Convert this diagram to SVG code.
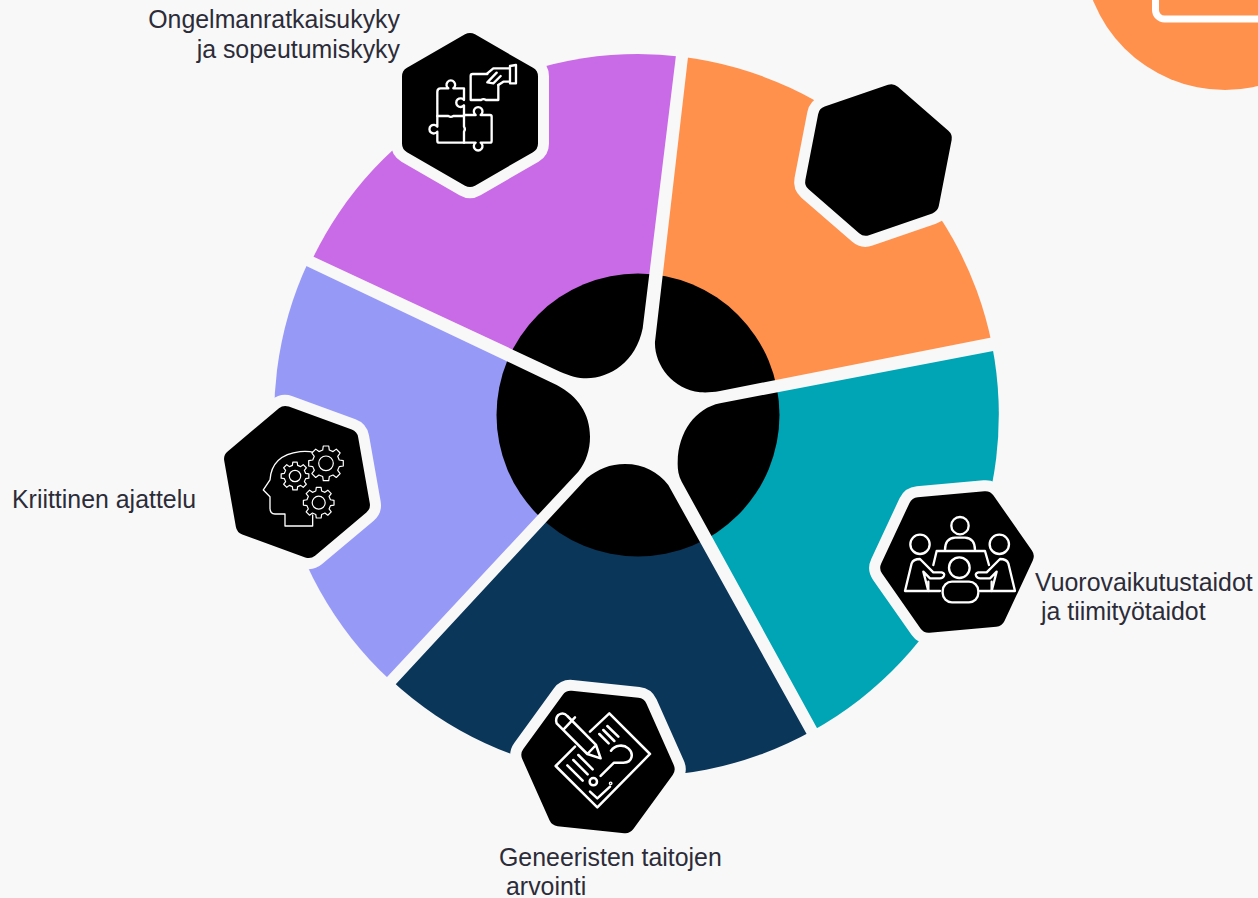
<svg xmlns="http://www.w3.org/2000/svg" width="1258" height="898" viewBox="0 0 1258 898">
<style>
.lbl{font-family:"Liberation Sans",Arial,sans-serif;font-size:24.9px;fill:#2c2c38}
.halo{fill:#f8f8f8;stroke:#f8f8f8;stroke-width:42;stroke-linejoin:round}
.hexb{fill:#000;stroke:#000;stroke-width:20;stroke-linejoin:round}
.ic{fill:none;stroke:#fff;stroke-width:7;stroke-linecap:round;stroke-linejoin:round}
.gear{fill:#000;stroke:#fff;stroke-width:1.2;stroke-linejoin:round;vector-effect:non-scaling-stroke}
.bg{fill:#f8f8f8}
</style>
<defs>
<polygon id="hex" points="0,-67 58,-33.5 58,33.5 0,67 -58,33.5 -58,-33.5"/>
<polygon id="g" class="gear" points="-18.9,-75.7 -15.6,-98.8 15.6,-98.8 18.9,-75.7 40.2,-66.9 58.8,-80.9 80.9,-58.8 66.9,-40.2 75.7,-18.9 98.8,-15.6 98.8,15.6 75.7,18.9 66.9,40.2 80.9,58.8 58.8,80.9 40.2,66.9 18.9,75.7 15.6,98.8 -15.6,98.8 -18.9,75.7 -40.2,66.9 -58.8,80.9 -80.9,58.8 -66.9,40.2 -75.7,18.9 -98.8,15.6 -98.8,-15.6 -75.7,-18.9 -66.9,-40.2 -80.9,-58.8 -58.8,-80.9 -40.2,-66.9"/>
</defs>
<rect width="1258" height="898" class="bg"/>
<g id="corner">
<circle cx="1225" cy="-52" r="142" fill="#ff914d"/>
<rect x="1155.500" y="-40" width="140" height="59" rx="9" fill="none" stroke="#fff" stroke-width="7"/>
</g>
<g id="segments">
<path id="seg-purple" fill="#c96ae6" d="M638 415 L310.600 262.800 A361 361 0 0 1 681.800 56.800 Z"/>
<path id="seg-orange" fill="#ff914d" d="M638 415 L681.800 56.800 A361 361 0 0 1 992 345 Z"/>
<path id="seg-teal" fill="#00a5b5" d="M638 415 L992 345 A361 361 0 0 1 812 731 Z"/>
<path id="seg-navy" fill="#0a3659" d="M638 415 L812 731 A361 361 0 0 1 391 680 Z"/>
<path id="seg-lav" fill="#9799f7" d="M638 415 L390 680 A361 361 0 0 1 308.500 261.500 Z"/>
<circle id="core" cx="638" cy="415" r="141.500" fill="#000"/>
<path id="gaps" class="bg" d="M681 14 L642.700 328.300 C636 362 610 378 586.700 378.300 C578 378.300 570 376 560 371.700 L270 236.400 L260 244 L556.700 385 C578 396 590 414 590 436.700 C590 450 586 462 578.300 471.700 L360 706 L370 712 L586.700 478.300 C598 469 610 464 625 464 C644 464 658 472 668.300 485 L830 776 L840 770 L681.700 481.700 C678 475 677.500 468 677.700 461.700 C678 432 696 408 720 403.300 L1040 342 L1040 328 L720 391 C712 392.500 706 392.600 700 392.300 C672 389 654 364 655 341.700 L693 14 Z"/>
</g>
<g id="node-problem">
<use href="#hex" class="halo" transform="translate(470 110)"/>
<use href="#hex" class="hexb" transform="translate(470 110)"/>
<g class="ic" transform="translate(400 30) scale(.3333)">
<path d="M112 258 V185 Q112 175 122 175 H145 A13 13 0 1 1 160 175 H192 V210 A13 13 0 1 0 192 226 V258"/>
<path d="M112 258 H145 A13 13 0 0 0 160 258 H192 V290 A13 13 0 0 1 192 305 V338 H118 Q112 338 112 332 V305 A13 13 0 1 1 112 290 Z"/>
<path d="M192 255 H227 A13 13 0 1 1 242 255 H270 Q275 255 275 260 V332 Q275 338 270 338 H242 A13 13 0 1 1 227 338 H192"/>
<path d="M262 132 H218 Q212 132 212 138 V210 H243 A13 13 0 0 1 258 210 H295 V165"/>
<path d="M348 105 V160 H330 V108 Z M330 115 H280 L262 130 M330 155 H310 L295 165 M262 157 L290 128 M262 157 L280 160 L302 138"/>
</g>
<text class="lbl" x="400" y="28" text-anchor="end">Ongelmanratkaisukyky</text>
<text class="lbl" x="400" y="58" text-anchor="end">ja sopeutumiskyky</text>
</g>
<g id="node-empty">
<use href="#hex" class="halo" transform="translate(878.500 160) rotate(11)"/>
<use href="#hex" class="hexb" transform="translate(878.500 160) rotate(11)"/>
</g>
<g id="node-critical">
<use href="#hex" class="halo" transform="translate(297 482) rotate(-10)"/>
<use href="#hex" class="hexb" transform="translate(297 482) rotate(-10)"/>
<g class="ic" style="stroke-width:4" transform="translate(220 400) scale(.3333)">
<path d="M195 378 V342 H165 Q150 342 150 325 V290 L130 270 L150 240 Q155 165 240 155 Q262 152 285 158 M195 378 H278 V345"/>
</g>
<use href="#g" transform="translate(326 463.300) scale(.175)"/>
<circle cx="326" cy="463.300" r="7.300" fill="none" stroke="#fff" stroke-width="1.200"/>
<use href="#g" transform="translate(295 476) scale(.14)"/>
<circle cx="295" cy="476" r="5.700" fill="none" stroke="#fff" stroke-width="1.200"/>
<use href="#g" transform="translate(318.700 502.700) scale(.155)"/>
<circle cx="318.700" cy="502.700" r="6.500" fill="none" stroke="#fff" stroke-width="1.200"/>
<text class="lbl" x="12" y="508">Kriittinen ajattelu</text>
</g>
<g id="node-teamwork">
<use href="#hex" class="halo" transform="translate(957 562) rotate(25)"/>
<use href="#hex" class="hexb" transform="translate(957 562) rotate(25)"/>
<g class="ic" transform="translate(870 485) scale(.3333)">
<circle cx="270" cy="122" r="26"/>
<path d="M225 195 Q225 160 255 158 H285 Q315 160 315 195"/>
<circle cx="150" cy="178" r="29"/>
<circle cx="388" cy="178" r="29"/>
<path d="M190 240 L200 198 H345 L357 240"/>
<circle cx="268" cy="248" r="31"/>
<rect x="218" y="290" width="107" height="62" rx="28"/>
<path d="M105 318 L125 235 Q130 222 150 222 L190 262 H215 Q225 265 222 272 Q218 280 210 280 H180 L160 260 L175 318 Z"/>
<path d="M435 318 L415 235 Q410 222 390 222 L350 262 H325 Q315 265 318 272 Q322 280 330 280 H360 L380 260 L365 318 Z"/>
<path d="M175 290 V318 H210 M365 290 V318 H330"/>
</g>
<text class="lbl" x="1035" y="591">Vuorovaikutustaidot</text>
<text class="lbl" x="1041" y="620">ja tiimityötaidot</text>
</g>
<g id="node-assessment">
<use href="#hex" class="halo" transform="translate(598 762) rotate(-24)"/>
<use href="#hex" class="hexb" transform="translate(598 762) rotate(-24)"/>
<g class="ic" style="stroke-width:7.500" transform="translate(510 680) scale(.3333)">
<path d="M240 155 L298 100 L420 222 L262 382 L137 258 L195 200"/>
<path d="M140 130 Q135 115 145 105 Q160 95 172 108 L258 195 L272 235 L232 222 Z M163 146 L195 112 M232 222 L258 195"/>
<path d="M292 138 L325 170 M280 150 L313 183 M268 162 L296 190 M205 225 L248 268 M190 240 L233 283 M172 256 L218 302"/>
<path d="M303 212 C315 195 340 192 355 205 C372 220 368 248 340 248 H312 L272 288"/>
<circle cx="250" cy="305" r="11"/>
<circle cx="302" cy="310" r="2"/>
<path d="M240 335 L262 355 L300 320"/>
</g>
<text class="lbl" x="499" y="866">Geneeristen taitojen</text>
<text class="lbl" x="506" y="895">arvointi</text>
</g>
</svg>
